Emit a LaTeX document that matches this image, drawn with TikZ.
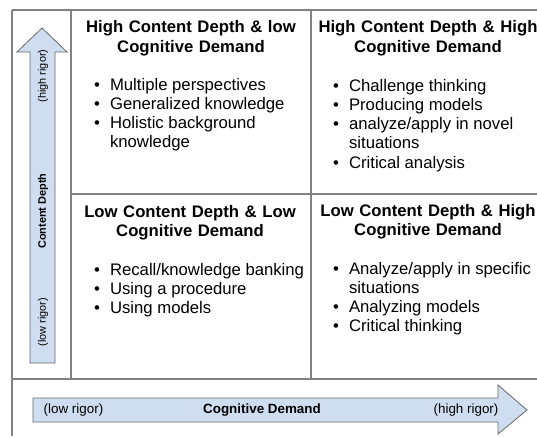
\documentclass[tikz,border=0pt]{standalone}
\usepackage{fontspec}
\setmainfont{Liberation Sans}
\definecolor{axisblue}{RGB}{207,221,241}
\definecolor{tablegray}{RGB}{130,130,130}
\definecolor{edgegray}{RGB}{105,105,105}
\newcommand{\bodysize}{\fontsize{16.7}{19.3}\selectfont}
\newcommand{\axissize}{\fontsize{13.4}{16}\selectfont}
\newcommand{\sidesize}{\fontsize{10.9}{13}\selectfont}
\newcommand{\bulletlist}[1]{\begin{tabular}[t]{@{}l@{\hspace{10pt}}l@{}}#1\end{tabular}}
\tikzset{tableline/.style={draw=tablegray, line width=1.2pt}}
\tikzset{axisbody/.style={fill=axisblue, draw=edgegray, line width=0.8pt, line join=miter}}
\tikzset{heading/.style={text width=240pt, align=center, inner sep=0pt, anchor=base, font=\bodysize\bfseries}}
\tikzset{items/.style={inner sep=0pt, anchor=base west, font=\bodysize}}
\tikzset{sidelabel/.style={inner sep=0pt, rotate=90, font=\sidesize}}
\tikzset{axislabel/.style={inner sep=0pt, font=\axissize}}

\begin{document}
\begin{tikzpicture}[x=1pt, y=-1pt]
    \useasboundingbox (0,0) rectangle (537,436);

    \draw[tableline] (12,10) -- (537,10);
    \draw[tableline] (12,10) -- (12,436);
    \draw[tableline] (71,10) -- (71,379);
    \draw[tableline] (311,10) -- (311,379);
    \draw[tableline] (71,194) -- (537,194);
    \draw[tableline] (12,379) -- (537,379);

    \draw[axisbody] (30,363) -- (30,52) -- (17,52) -- (42,28) -- (67,52) -- (55,52) -- (55,363) -- cycle;
    \draw[axisbody] (33,398) -- (498,398) -- (498,385) -- (527,410) -- (498,434) -- (498,422) -- (33,422) -- cycle;

    \node[sidelabel] (depthhigh) at (43,76) {(high rigor)};
    \node[sidelabel] (depth) at (43,211) {\bfseries Content Depth};
    \node[sidelabel] (depthlow) at (43,322) {(low rigor)};

    \node[axislabel] (demandlow) at (73.5,410) {(low rigor)};
    \node[axislabel] (demand) at (262,410) {\bfseries Cognitive Demand};
    \node[axislabel] (demandhigh) at (466,410) {(high rigor)};

    \node[heading] (highlow) at (191,33) {High Content Depth \& low\\Cognitive Demand};
    \node[items] (highlowlist) at (94,90) {\bulletlist{
        \textbullet & Multiple perspectives \\
        \textbullet & Generalized knowledge \\
        \textbullet & Holistic background \\
                    & knowledge \\
    }};

    \node[heading] (highhigh) at (428,33) {High Content Depth \& High\\Cognitive Demand};
    \node[items] (highhighlist) at (333,91) {\bulletlist{
        \textbullet & Challenge thinking \\
        \textbullet & Producing models \\
        \textbullet & analyze/apply in novel \\
                    & situations \\
        \textbullet & Critical analysis \\
    }};

    \node[heading] (lowlow) at (190,217) {Low Content Depth \& Low\\Cognitive Demand};
    \node[items] (lowlowlist) at (94,275) {\bulletlist{
        \textbullet & Recall/knowledge banking \\
        \textbullet & Using a procedure \\
        \textbullet & Using models \\
    }};

    \node[heading] (lowhigh) at (428,216) {Low Content Depth \& High\\Cognitive Demand};
    \node[items] (lowhighlist) at (333,274) {\bulletlist{
        \textbullet & Analyze/apply in specific \\
                    & situations \\
        \textbullet & Analyzing models \\
        \textbullet & Critical thinking \\
    }};

\end{tikzpicture}
\end{document}
